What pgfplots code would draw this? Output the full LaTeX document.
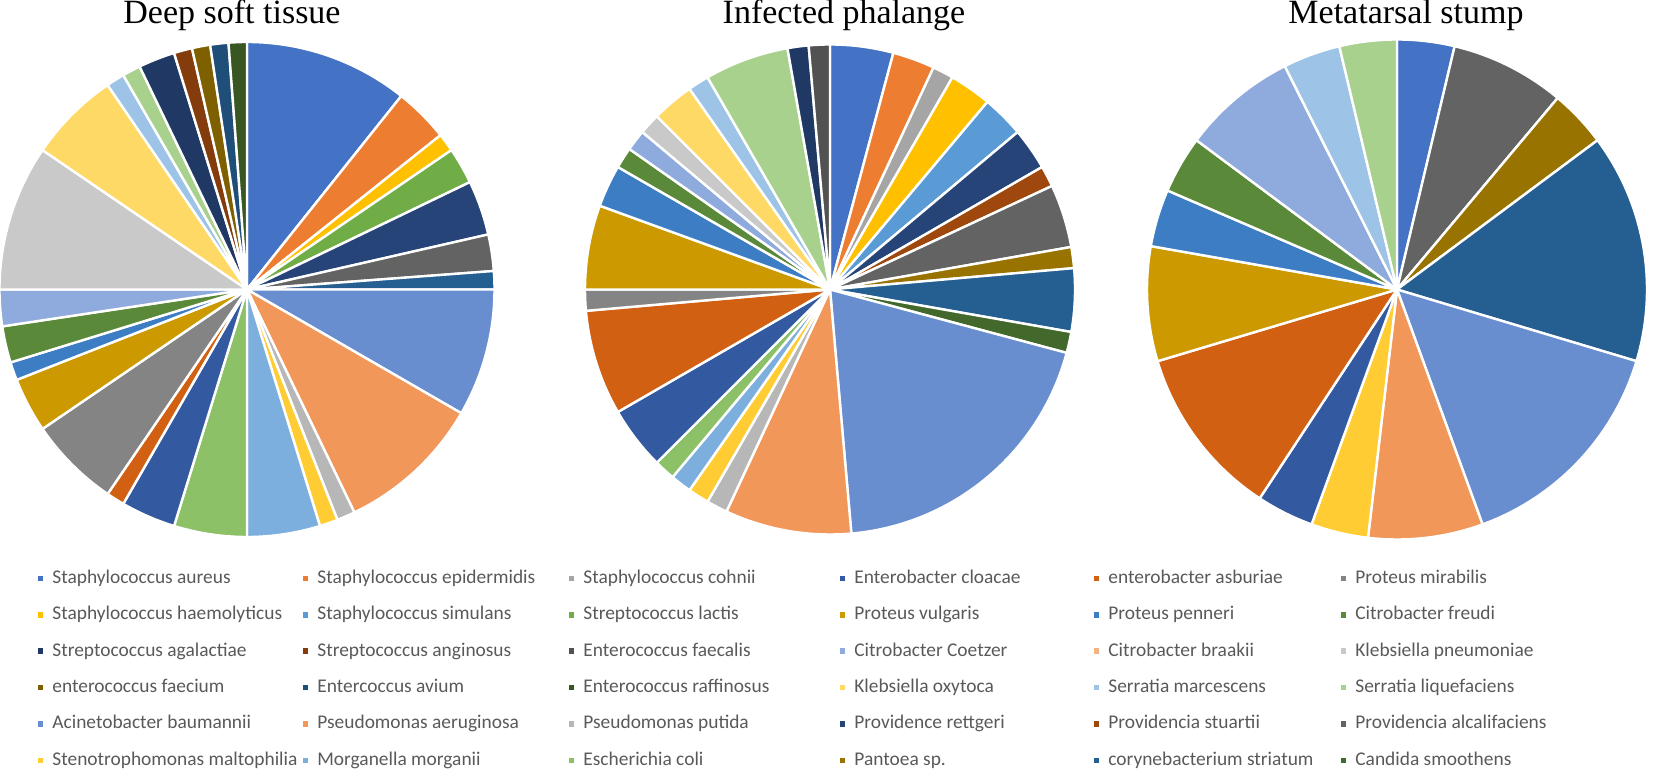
\documentclass[border=0pt]{standalone}
\usepackage{fontspec}
\setmainfont{Liberation Serif}
\newfontfamily\legfont{Carlito}
\usepackage{pgfplots}
\usepackage{pgfplotstable}
\pgfplotsset{compat=1.18}

\definecolor{p1}{HTML}{4472C4}\definecolor{p2}{HTML}{ED7D31}\definecolor{p3}{HTML}{A5A5A5}
\definecolor{p4}{HTML}{FFC000}\definecolor{p5}{HTML}{5B9BD5}\definecolor{p6}{HTML}{70AD47}
\definecolor{p7}{HTML}{264478}\definecolor{p8}{HTML}{9E480E}\definecolor{p9}{HTML}{636363}
\definecolor{p10}{HTML}{997300}\definecolor{p11}{HTML}{255E91}\definecolor{p12}{HTML}{43682B}
\definecolor{p13}{HTML}{698ED0}\definecolor{p14}{HTML}{F1975A}\definecolor{p15}{HTML}{B7B7B7}
\definecolor{p16}{HTML}{FFCD33}\definecolor{p17}{HTML}{7CAFDD}\definecolor{p18}{HTML}{8CC168}
\definecolor{p19}{HTML}{335AA1}\definecolor{p20}{HTML}{D26012}\definecolor{p21}{HTML}{848484}
\definecolor{p22}{HTML}{CC9A00}\definecolor{p23}{HTML}{3C7DC4}\definecolor{p24}{HTML}{5A8A39}
\definecolor{p25}{HTML}{8FAADC}\definecolor{p26}{HTML}{F4B183}\definecolor{p27}{HTML}{C9C9C9}
\definecolor{p28}{HTML}{FFD966}\definecolor{p29}{HTML}{9DC3E6}\definecolor{p30}{HTML}{A9D18E}
\definecolor{p31}{HTML}{203864}\definecolor{p32}{HTML}{843C0C}\definecolor{p33}{HTML}{525252}
\definecolor{p34}{HTML}{7F6000}\definecolor{p35}{HTML}{1F4E79}\definecolor{p36}{HTML}{385723}
\definecolor{legtext}{HTML}{595959}

% Deep soft tissue (counts, clockwise from 12 o'clock)
\pgfplotstableread{
v c
9 p1
3 p2
1 p4
2 p6
3 p7
2 p9
1 p11
7 p13
8 p14
1 p15
1 p16
4 p17
4 p18
3 p19
1 p20
5 p21
3 p22
1 p23
2 p24
2 p25
8 p27
5 p28
1 p29
1 p30
2 p31
1 p32
1 p34
1 p35
1 p36
}\deep

% Infected phalange
\pgfplotstableread{
v c
3 p1
2 p2
1 p3
2 p4
2 p5
2 p7
1 p8
3 p9
1 p10
3 p11
1 p12
14 p13
6 p14
1 p15
1 p16
1 p17
1 p18
3 p19
5 p20
1 p21
4 p22
2 p23
1 p24
1 p25
1 p27
2 p28
1 p29
4 p30
1 p31
1 p33
}\phal

% Metatarsal stump
\pgfplotstableread{
v c
1 p1
2 p9
1 p10
4 p11
4 p13
2 p14
1 p16
1 p19
3 p20
2 p22
1 p23
1 p24
2 p25
1 p29
1 p30
}\meta

\newcommand\drawpie[2]{% #1 table, #2 radius
  \def\pieR{#2}%
  \pgfplotstablegetrowsof{#1}\pgfmathtruncatemacro\pieN{\pgfplotsretval-1}%
  \gdef\pietot{0}%
  \pgfplotsforeachungrouped \i in {0,...,\pieN}{%
    \pgfplotstablegetelem{\i}{v}\of#1%
    \pgfmathparse{\pietot+\pgfplotsretval}\xdef\pietot{\pgfmathresult}}%
  \gdef\pieacc{0}%
  \pgfplotsforeachungrouped \i in {0,...,\pieN}{%
    \pgfplotstablegetelem{\i}{v}\of#1\let\val\pgfplotsretval
    \pgfplotstablegetelem{\i}{c}\of#1\let\slicecol\pgfplotsretval
    \pgfmathparse{90-\pieacc/\pietot*360}\let\sa\pgfmathresult
    \pgfmathparse{\pieacc+\val}\xdef\pieacc{\pgfmathresult}%
    \pgfmathparse{90-\pieacc/\pietot*360}\let\se\pgfmathresult
    \edef\temp{\noexpand\fill[fill=\slicecol,draw=white,line width=1.2pt,line join=round]
      (axis cs:0,0) -- ++(\sa:\pieR) arc[start angle=\sa,end angle=\se,radius=\pieR] -- cycle;}%
    \temp}%
}

\pgfplotsset{
  pie axis/.style={anchor=center, scale only axis,
    xmin=-1, xmax=1, ymin=-1, ymax=1, hide axis, clip=false},
  sq legend/.style={legend image code/.code={%
      \fill[##1,draw=none] (0pt,-1.4pt) rectangle (2.8pt,1.4pt);
      \path (7.4pt,0pt);}}
}
\tikzset{pie title/.style={anchor=base, font=\fontsize{17}{19}\selectfont, text=black}}
\newcommand\legitem[3]{\addlegendimage{sq legend, fill=#1, draw=none}\addlegendentry{\makebox[#3][l]{#2}}}

\begin{document}
\begin{tikzpicture}
\useasboundingbox (0,0) rectangle (827pt,385pt);

\begin{axis}[pie axis, at={(123.5pt,240.25pt)}, width=247.5pt, height=247.5pt]
\drawpie{\deep}{123.75pt}
\end{axis}

\begin{axis}[pie axis, at={(415pt,240.25pt)}, width=245pt, height=245pt]
\drawpie{\phal}{122.5pt}
\end{axis}

\begin{axis}[pie axis, at={(698.5pt,240.25pt)}, width=250pt, height=250pt]
\drawpie{\meta}{125pt}
\end{axis}

\begin{axis}[at={(0pt,0pt)}, anchor=south west, width=827pt, height=385pt, scale only axis,
  xmin=0, xmax=1, ymin=0, ymax=1, hide axis, clip=false,
  legend columns=6, legend cell align=left,
  legend style={draw=none, fill=none, inner sep=0pt, at={(0.02249,0.26104)}, anchor=north west,
    font=\legfont\fontsize{9.7}{11}\selectfont, text=legtext,
    /tikz/column sep=0pt, /tikz/row sep=9.2pt,
    nodes={inner sep=0pt, text height=7pt, text depth=2pt}}]
\node[pie title] at (axis cs:0.14027,0.96883) {Deep soft tissue};
\node[pie title] at (axis cs:0.51028,0.96883) {Infected phalange};
\node[pie title] at (axis cs:0.85006,0.96883) {Metatarsal stump};
\legitem{p1}{Staphylococcus aureus}{125.1pt}
\legitem{p2}{Staphylococcus epidermidis}{125.6pt}
\legitem{p3}{Staphylococcus cohnii}{128.1pt}
\legitem{p19}{Enterobacter cloacae}{119.6pt}
\legitem{p20}{enterobacter asburiae}{116.1pt}
\legitem{p21}{Proteus mirabilis}{110pt}
\legitem{p4}{Staphylococcus haemolyticus}{125.1pt}
\legitem{p5}{Staphylococcus simulans}{125.6pt}
\legitem{p6}{Streptococcus lactis}{128.1pt}
\legitem{p22}{Proteus vulgaris}{119.6pt}
\legitem{p23}{Proteus penneri}{116.1pt}
\legitem{p24}{Citrobacter freudi}{110pt}
\legitem{p31}{Streptococcus agalactiae}{125.1pt}
\legitem{p32}{Streptococcus anginosus}{125.6pt}
\legitem{p33}{Enterococcus faecalis}{128.1pt}
\legitem{p25}{Citrobacter Coetzer}{119.6pt}
\legitem{p26}{Citrobacter braakii}{116.1pt}
\legitem{p27}{Klebsiella pneumoniae}{110pt}
\legitem{p34}{enterococcus faecium}{125.1pt}
\legitem{p35}{Entercoccus avium}{125.6pt}
\legitem{p36}{Enterococcus raffinosus}{128.1pt}
\legitem{p28}{Klebsiella oxytoca}{119.6pt}
\legitem{p29}{Serratia marcescens}{116.1pt}
\legitem{p30}{Serratia liquefaciens}{110pt}
\legitem{p13}{Acinetobacter baumannii}{125.1pt}
\legitem{p14}{Pseudomonas aeruginosa}{125.6pt}
\legitem{p15}{Pseudomonas putida}{128.1pt}
\legitem{p7}{Providence rettgeri}{119.6pt}
\legitem{p8}{Providencia stuartii}{116.1pt}
\legitem{p9}{Providencia alcalifaciens}{110pt}
\legitem{p16}{Stenotrophomonas maltophilia}{125.1pt}
\legitem{p17}{Morganella morganii}{125.6pt}
\legitem{p18}{Escherichia coli}{128.1pt}
\legitem{p10}{Pantoea sp.}{119.6pt}
\legitem{p11}{corynebacterium striatum}{116.1pt}
\legitem{p12}{Candida smoothens}{110pt}
\end{axis}
\end{tikzpicture}
\end{document}
